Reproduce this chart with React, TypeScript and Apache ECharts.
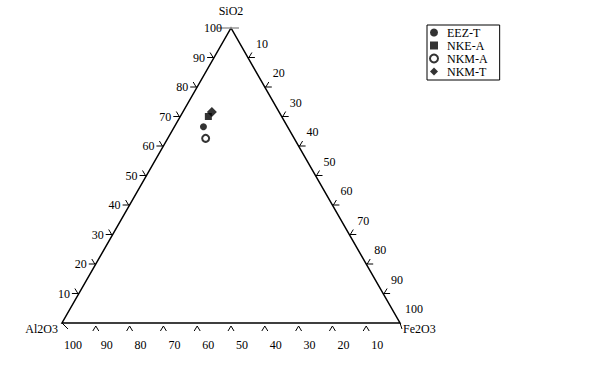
import React, { useEffect, useRef } from "react";
import * as echarts from "echarts";

const seriesNames = ["EEZ-T", "NKE-A", "NKM-A", "NKM-T"];
const seriesSymbols = ["circle", "rect", "emptyCircle", "diamond"];
const sio2 = [66.5, 70.0, 62.6, 71.5];
const fe2o3 = [8.6, 8.3, 11.2, 8.6];
const al2o3 = [24.9, 21.7, 26.2, 19.9];
const tickValues = [10, 20, 30, 40, 50, 60, 70, 80, 90, 100];
const apexLabels = { top: "SiO2", left: "Al2O3", right: "Fe2O3" };

const FONT = '12px "Liberation Serif", "DejaVu Serif", serif';

function toXY(al: number, si: number, fe: number): [number, number] {
  const t = al + si + fe;
  return [(fe + si / 2) / t, si / t];
}

export default function App() {
  const ref = useRef<HTMLDivElement>(null);
  useEffect(() => {
    if (!ref.current) return;
    const chart = echarts.init(ref.current, null, { renderer: "svg" });

    const renderFrame = (params: any, api: any) => {
      const c = (p: [number, number]) => api.coord(p);
      const L = c([0, 0]);
      const R = c([1, 0]);
      const T = c([0.5, 1]);
      const children: any[] = [];
      const line = (x1: number, y1: number, x2: number, y2: number, stroke = "#000", w = 1) =>
        children.push({ type: "line", shape: { x1, y1, x2, y2 }, style: { stroke, lineWidth: w } });
      const text = (x: number, y: number, s: string, align: string, va = "middle") =>
        children.push({
          type: "text",
          x,
          y,
          style: { text: s, font: FONT, fill: "#000", align, verticalAlign: va },
        });

      children.push({
        type: "polygon",
        shape: { points: [L, R, T] },
        style: { fill: "none", stroke: "#000", lineWidth: 1.5 },
      });

      tickValues.forEach((v) => {
        const f = v / 100;
        // left edge: SiO2
        const pl = c([f / 2, f]);
        if (v === 100) {
          line(pl[0] - 13, pl[1], pl[0] + 8, pl[1], "#999", 1.5);
        } else {
          line(pl[0], pl[1], pl[0] - 7, pl[1]);
          line(pl[0] - 1, pl[1], pl[0] - 4, pl[1] - 5);
        }
        text(pl[0] - 9, pl[1], String(v), "right");
        // bottom edge: Al2O3
        const pb = c([1 - f, 0]);
        if (v !== 100) {
          line(pb[0] - 3, pb[1] + 8, pb[0], pb[1] + 3);
          line(pb[0], pb[1] + 3, pb[0] + 3, pb[1] + 8);
        } else {
          line(pb[0], pb[1], pb[0] + 6, pb[1] + 6);
        }
        text(pb[0] + 11, pb[1] + 22, String(v), "center");
        // right edge: Fe2O3
        const pr = c([0.5 + f / 2, 1 - f]);
        if (v !== 100) {
          line(pr[0], pr[1], pr[0] + 7, pr[1]);
          line(pr[0] + 1, pr[1], pr[0] + 4, pr[1] - 5);
        } else {
          line(pr[0], pr[1], pr[0] + 2, pr[1] + 6);
        }
        text(pr[0] + 14, pr[1] - 14, String(v), "center");
      });

      text(T[0], T[1] - 17, apexLabels.top, "center");
      text(L[0] - 4, L[1] + 6, apexLabels.left, "right");
      text(R[0] + 3, R[1] + 6, apexLabels.right, "left");

      return { type: "group", children };
    };

    const scatterSeries = seriesNames.map((name, i) => ({
      name,
      type: "scatter",
      symbol: seriesSymbols[i],
      symbolSize: seriesSymbols[i] === "diamond" ? 10 : 7,
      itemStyle:
        seriesSymbols[i] === "emptyCircle"
          ? { color: "#000", borderColor: "#000", borderWidth: 2 }
          : { color: "#000" },
      z: 5,
      data: [toXY(al2o3[i], sio2[i], fe2o3[i])],
    }));

    chart.setOption({
      animation: false,
      grid: { left: 62, right: 199, top: 28, bottom: 50 },
      xAxis: { type: "value", min: 0, max: 1, show: false },
      yAxis: { type: "value", min: 0, max: 1, show: false },
      legend: {
        orient: "vertical",
        left: 427,
        top: 25,
        padding: [1, 12, 2, 2],
        borderColor: "#000",
        borderWidth: 1,
        itemWidth: 8,
        itemHeight: 8,
        itemGap: 0,
        data: seriesNames.map((n, i) => ({ name: n, icon: seriesSymbols[i] })),
        textStyle: {
          fontFamily: '"Liberation Serif", serif',
          fontSize: 12,
          color: "#000",
          lineHeight: 13,
          padding: [0, 0, 0, 4],
        },
      },
      series: [
        {
          type: "custom",
          silent: true,
          clip: false,
          data: [[0, 0]],
          renderItem: renderFrame,
          z: 1,
        },
        ...scatterSeries,
      ],
    });
    return () => chart.dispose();
  }, []);
  return (
    <div
      ref={ref}
      style={{ position: "fixed", left: 0, top: 0, width: 599, height: 373, background: "#fff" }}
    />
  );
}
